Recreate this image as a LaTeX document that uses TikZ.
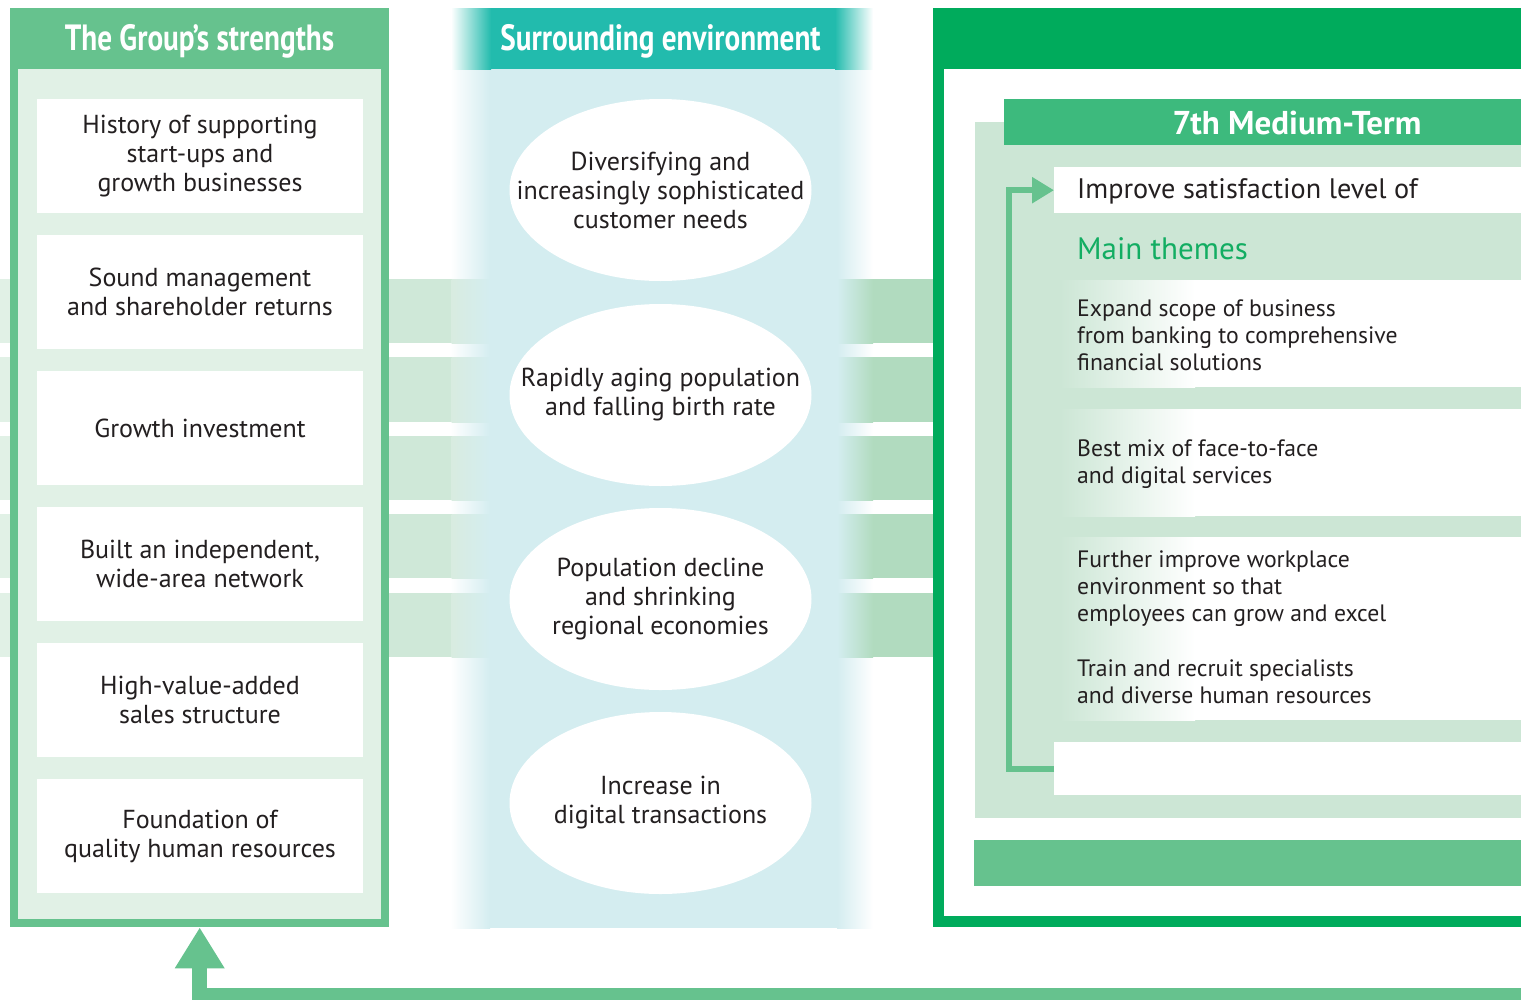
\documentclass[tikz,border=0pt]{standalone}
\usepackage{fontspec}
\setmainfont{PT Sans}
\newfontfamily\hdrfont{PT Sans}[FakeStretch=0.8]
\usetikzlibrary{shapes.geometric,arrows.meta}
\definecolor{lgreen}{HTML}{66C28E}
\definecolor{lfill}{HTML}{E1F1E6}
\definecolor{stripeL}{HTML}{CFE8D8}
\definecolor{stripeLb}{HTML}{D8ECE0}
\definecolor{stripeR}{HTML}{B1DBBF}
\definecolor{panelg}{HTML}{CCE6D5}
\definecolor{dgreen}{HTML}{00AB5C}
\definecolor{mtgreen}{HTML}{3DBA7D}
\definecolor{hdteal}{HTML}{22BBAD}
\definecolor{cyanb}{HTML}{D4EDF0}
\definecolor{themeg}{HTML}{12AD62}
\definecolor{txt}{HTML}{231F20}
\tikzset{
  sbox/.style={fill=white, minimum width=326pt, minimum height=114pt, inner sep=0pt, align=center, font=\fontsize{26}{29}\selectfont, text=txt},
  envell/.style={ellipse, fill=white, minimum width=302pt, minimum height=182pt, inner sep=0pt},
  envtxt/.style={align=center, inner sep=0pt, font=\fontsize{26}{29}\selectfont, text=txt},
  hdr/.style={font=\hdrfont\bfseries\fontsize{36.5}{40}\selectfont, text=white, inner sep=0pt},
  theme/.style={anchor=west, align=left, inner sep=0pt, font=\fontsize{23.7}{27}\selectfont, text=txt},
  rowbox/.style={fill=white, anchor=north west, inner sep=0pt, minimum width=480pt, minimum height=#1},
  plainbox/.style={anchor=north west, inner sep=0pt}
}
\begin{document}
\begin{tikzpicture}[x=1pt,y=-1pt]
\useasboundingbox (0,0) rectangle (1521,999);
% middle band
\fill[left color=white, right color=cyanb] (450,69) rectangle (490,928);
\fill[cyanb] (489.5,69) rectangle (837.5,928);
\fill[left color=cyanb, right color=white] (837,69) rectangle (873,928);
\fill[left color=white, right color=hdteal] (451,8) rectangle (491,69);
\fill[hdteal] (490.5,8) rectangle (835.5,69);
\fill[left color=hdteal, right color=white] (835,8) rectangle (873,69);
% stripes
\foreach \a/\b in {279/343,357/422,436/500,514/578,593/657}{
  \fill[lfill] (0,\a) rectangle (12,\b);
  \fill[stripeL] (385,\a) rectangle (452,\b);
  \fill[left color=stripeLb, right color=cyanb] (451.5,\a) rectangle (490,\b);
  \fill[left color=cyanb, right color=stripeR] (837,\a) rectangle (873,\b);
  \fill[stripeR] (872.5,\a) rectangle (936,\b);
}
% left panel
\node[plainbox, fill=lgreen, minimum width=379pt, minimum height=919pt] (strengths) at (10,8) {};
\fill[lfill] (18,69) rectangle (381,919);
\node[hdr] (strhdr) at (199.5,41) {The Group’s strengths};
\node[sbox] (s1) at (200,156) {History of supporting\\start-ups and\\growth businesses};
\node[sbox] (s2) at (200,292) {Sound management\\and shareholder returns};
\node[sbox] (s3) at (200,428) {Growth investment};
\node[sbox] (s4) at (200,564) {Built an independent,\\wide-area network};
\node[sbox] (s5) at (200,700) {High-value-added\\sales structure};
\node[sbox] (s6) at (200,836) {Foundation of\\quality human resources};
% middle
\node[hdr] (envhdr) at (660.5,41) {Surrounding environment};
\node[envell] (e1) at (660.5,190) {};
\node[envell] (e2) at (660.5,395) {};
\node[envell] (e3) at (660.5,599) {};
\node[envell] (e4) at (660.5,803) {};
\node[envtxt] (e1t) at (e1.center) {Diversifying and\\increasingly sophisticated\\customer needs};
\node[envtxt] (e2t) at (e2.center) {Rapidly aging population\\and falling birth rate};
\node[envtxt] (e3t) at (e3.center) {Population decline\\and shrinking\\regional economies};
\node[envtxt] (e4t) at (e4.center) {Increase in\\digital transactions};
% right panel
\node[plainbox, fill=dgreen, minimum width=620pt, minimum height=919pt] (plan) at (933,8) {};
\fill[white] (944,69) rectangle (1560,916);
\fill[panelg] (975,122) rectangle (1540,818);
\node[plainbox, fill=mtgreen, minimum width=540pt, minimum height=46pt] (mtbar) at (1004,99) {};
\node[font=\bfseries\fontsize{33}{38}\selectfont, text=white, inner sep=0pt] (mttext) at (1297,123) {7th Medium-Term};
\node[plainbox, fill=white, minimum width=490pt, minimum height=46pt] (imp) at (1054,167) {};
\node[anchor=west, inner sep=0pt, font=\fontsize{28.2}{32}\selectfont, text=txt] (imptext) at (1077,191) {Improve satisfaction level of};
\node[anchor=west, inner sep=0pt, font=\fontsize{31}{34}\selectfont, text=themeg] (mainthemes) at (1077,249) {Main themes};
\node[rowbox=107pt] (r1) at (1060,280) {};
\node[rowbox=107pt] (r2) at (1060,409) {};
\node[rowbox=183pt] (r3) at (1060,537) {};
\fill[left color=panelg, right color=white] (1060,280) rectangle (1195,387);
\fill[left color=panelg, right color=white] (1060,409) rectangle (1195,516);
\fill[left color=panelg, right color=white] (1060,537) rectangle (1195,720);
\node[theme] (t1) at (1077,335) {Expand scope of business\\from banking to comprehensive\\financial solutions};
\node[theme] (t2) at (1077,464) {Best mix of face-to-face\\and digital services};
\node[theme] (t3) at (1077,589) {Further improve workplace\\environment so that\\employees can grow and excel};
\node[theme] (t4) at (1077,682) {Train and recruit specialists\\and diverse human resources};
\node[plainbox, fill=white, minimum width=490pt, minimum height=53pt] (endbox) at (1054,742) {};
\node[plainbox, fill=lgreen, minimum width=570pt, minimum height=46pt] (bar) at (974,840) {};
\draw[lgreen, line width=6pt, -{Triangle[length=22pt,width=25pt]}] (endbox.west) -- ++(-45.5,0) |- (imp.west);
% feedback arrow
\coordinate (fb) at (1545,995.5);
\draw[lgreen, line width=15pt, -{Triangle[length=41pt,width=47pt]}] (fb) -| (strengths.south);
\end{tikzpicture}
\end{document}
